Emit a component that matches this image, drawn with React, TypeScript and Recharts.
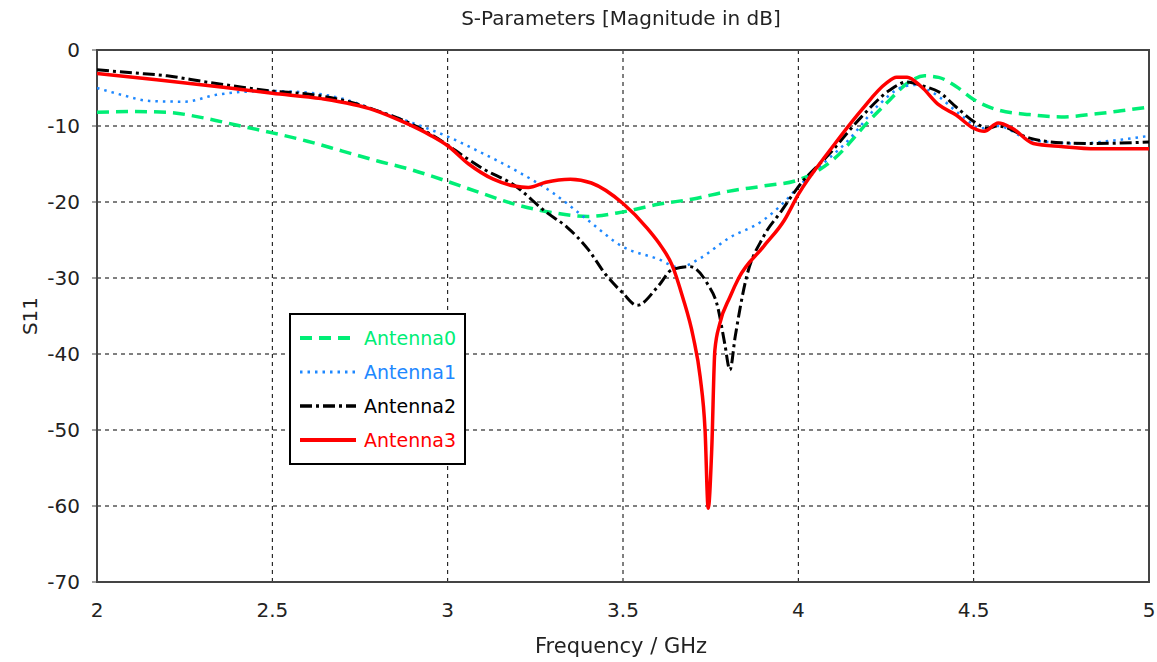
import { LineChart, Line, XAxis, YAxis, CartesianGrid, ReferenceArea } from "recharts";

// S11 curves, frequency in GHz, magnitude in dB
const antenna0Freq = [2.0, 2.1, 2.2, 2.3, 2.4, 2.5, 2.6, 2.7, 2.8, 2.9, 3.0, 3.1, 3.2, 3.3, 3.4, 3.5, 3.6, 3.7, 3.8, 3.9, 4.0, 4.1, 4.2, 4.26, 4.31, 4.36, 4.4, 4.45, 4.5, 4.57, 4.66, 4.75, 4.85, 4.92, 5.0];
const antenna0Db = [-8.2, -8.1, -8.2, -8.9, -9.9, -10.9, -12.0, -13.3, -14.6, -15.8, -17.3, -18.9, -20.4, -21.4, -21.9, -21.3, -20.3, -19.6, -18.6, -17.9, -17.1, -14.4, -9.4, -6.6, -4.4, -3.4, -3.6, -4.8, -6.5, -7.9, -8.5, -8.8, -8.4, -8.0, -7.5];

const antenna1Freq = [2.0, 2.07, 2.15, 2.25, 2.34, 2.42, 2.5, 2.6, 2.7, 2.8, 2.9, 3.0, 3.1, 3.2, 3.3, 3.4, 3.5, 3.6, 3.66, 3.72, 3.8, 3.9, 3.96, 4.0, 4.05, 4.14, 4.23, 4.29, 4.33, 4.38, 4.47, 4.52, 4.57, 4.66, 4.8, 4.9, 5.0];
const antenna1Db = [-5.0, -5.9, -6.7, -6.8, -5.9, -5.5, -5.4, -5.6, -6.4, -8.0, -9.6, -11.4, -13.6, -16.0, -18.8, -22.4, -25.9, -27.5, -28.6, -27.4, -24.8, -22.4, -20.0, -18.0, -15.8, -12.0, -7.2, -5.0, -4.6, -5.5, -8.8, -10.3, -10.0, -11.8, -12.3, -11.9, -11.3];

const antenna2Freq = [2.0, 2.1, 2.2, 2.31, 2.4, 2.5, 2.6, 2.7, 2.8, 2.9, 3.0, 3.04, 3.1, 3.19, 3.28, 3.34, 3.4, 3.45, 3.5, 3.54, 3.6, 3.64, 3.69, 3.74, 3.77, 3.79, 3.805, 3.82, 3.85, 3.9, 3.95, 4.0, 4.09, 4.18, 4.26, 4.31, 4.36, 4.4, 4.45, 4.5, 4.54, 4.57, 4.66, 4.75, 4.85, 5.0];
const antenna2Db = [-2.6, -3.0, -3.4, -4.2, -4.8, -5.4, -5.8, -6.6, -8.0, -9.8, -12.5, -13.8, -15.6, -17.8, -21.3, -23.3, -26.2, -29.5, -32.0, -33.6, -31.1, -28.9, -28.5, -30.7, -33.8, -38.6, -42.1, -37.7, -30.3, -24.6, -21.3, -18.0, -13.6, -8.8, -5.3, -4.2, -4.8, -5.5, -7.5, -9.4, -10.3, -10.0, -11.6, -12.2, -12.3, -12.1];

const antenna3Freq = [2.0, 2.17, 2.36, 2.5, 2.64, 2.79, 2.88, 2.95, 3.0, 3.06, 3.13, 3.19, 3.23, 3.28, 3.35, 3.41, 3.5, 3.57, 3.61, 3.64, 3.67, 3.7, 3.72, 3.734, 3.743, 3.753, 3.762, 3.776, 3.805, 3.83, 3.9, 3.96, 4.0, 4.09, 4.18, 4.25, 4.28, 4.31, 4.35, 4.4, 4.45, 4.5, 4.53, 4.57, 4.61, 4.67, 4.75, 4.85, 5.0];
const antenna3Db = [-3.1, -3.9, -4.9, -5.7, -6.4, -7.9, -9.6, -11.2, -12.6, -15.0, -17.0, -17.9, -18.1, -17.4, -17.0, -17.5, -20.2, -23.5, -25.9, -28.3, -32.5, -37.7, -43.0, -50.0, -60.3, -52.6, -39.5, -36.0, -32.5, -30.0, -25.9, -22.4, -19.0, -13.2, -7.9, -4.4, -3.6, -3.6, -4.8, -7.2, -8.55, -10.3, -10.7, -9.6, -10.3, -12.3, -12.7, -13.0, -13.0];

const xTicks = [2, 2.5, 3, 3.5, 4, 4.5, 5];
const yTicks = [0, -10, -20, -30, -40, -50, -60, -70];

const toPoints = (freq: number[], db: number[]) => freq.map((f, i) => ({ f, s11: db[i] }));

const series = [
  { name: "Antenna0", color: "#00ee76", dash: "12 7", width: 3.5, data: toPoints(antenna0Freq, antenna0Db) },
  { name: "Antenna1", color: "#1e88ff", dash: "2.5 5", width: 2.5, data: toPoints(antenna1Freq, antenna1Db) },
  { name: "Antenna2", color: "#000000", dash: "12 4 3 4", width: 3, data: toPoints(antenna2Freq, antenna2Db) },
  { name: "Antenna3", color: "#ff0000", dash: undefined, width: 3.5, data: toPoints(antenna3Freq, antenna3Db) },
];

const FONT = "'DejaVu Sans', Verdana, sans-serif";
const TEXT = "#222";

function LegendBox() {
  return (
    <div
      style={{
        position: "absolute",
        left: 289,
        top: 313,
        width: 173,
        height: 142,
        border: "2px solid #000",
        background: "#fff",
        paddingTop: 6,
        boxSizing: "content-box",
        fontFamily: FONT,
        fontSize: 19,
      }}
    >
      {series.map((s) => (
        <div key={s.name} style={{ display: "flex", alignItems: "center", height: 34 }}>
          <svg width={72} height={10} style={{ marginLeft: 9, flexShrink: 0 }}>
            <line x1={0} y1={5} x2={56} y2={5} stroke={s.color} strokeWidth={s.width + 0.5} strokeDasharray={s.dash} />
          </svg>
          <span style={{ color: s.color, marginLeft: -8 }}>{s.name}</span>
        </div>
      ))}
    </div>
  );
}

export default function App() {
  return (
    <div style={{ position: "fixed", left: 0, top: 0, width: 1157, height: 662, fontFamily: FONT, background: "#fff" }}>
      <LineChart width={1157} height={662} margin={{ top: 50, right: 8, bottom: 50, left: 0 }} style={{ overflow: "visible" }}>
        <CartesianGrid stroke="#000" strokeDasharray="4 4" strokeWidth={1} />
        <XAxis
          type="number"
          dataKey="f"
          domain={[2, 5]}
          ticks={xTicks}
          allowDataOverflow
          height={30}
          axisLine={false}
          tickLine={false}
          tickSize={0}
          tickMargin={21}
          tick={{ fill: TEXT, fontSize: 20, fontFamily: FONT }}
        />
        <YAxis
          type="number"
          dataKey="s11"
          domain={[-70, 0]}
          ticks={yTicks}
          allowDataOverflow
          width={97}
          axisLine={false}
          tickLine={{ stroke: "#444" }}
          tickSize={5}
          tickMargin={12}
          tick={{ fill: TEXT, fontSize: 20, fontFamily: FONT }}
        />
        <ReferenceArea x1={2} x2={5} y1={-70} y2={0} fill="none" stroke="#444" strokeWidth={2} ifOverflow="visible" />
        {series.map((s) => (
          <Line
            key={s.name}
            data={s.data}
            dataKey="s11"
            name={s.name}
            type="monotone"
            stroke={s.color}
            strokeWidth={s.width}
            strokeDasharray={s.dash}
            dot={false}
            activeDot={false}
            isAnimationActive={false}
          />
        ))}
      </LineChart>
      <div style={{ position: "absolute", top: 6, left: 0, width: 1242, lineHeight: "24px", textAlign: "center", fontSize: 20, color: TEXT }}>
        S-Parameters [Magnitude in dB]
      </div>
      <div style={{ position: "absolute", top: 634, left: 0, width: 1242, lineHeight: "24px", textAlign: "center", fontSize: 21, color: TEXT }}>
        Frequency / GHz
      </div>
      <div
        style={{
          position: "absolute",
          left: 30,
          top: 316,
          lineHeight: "24px",
          transform: "translate(-50%, -50%) rotate(-90deg)",
          fontSize: 20,
          color: TEXT,
        }}
      >
        S11
      </div>
      <LegendBox />
    </div>
  );
}
